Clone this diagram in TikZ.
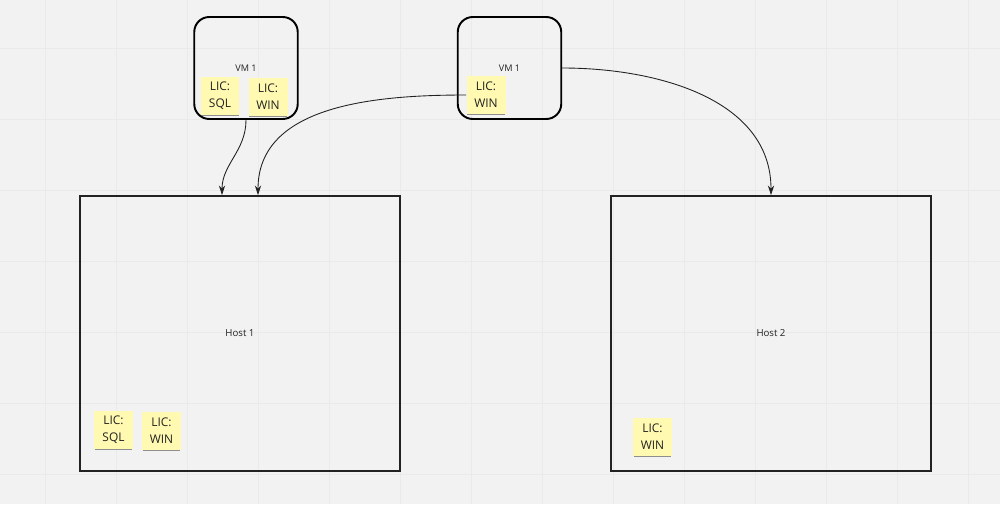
\documentclass[tikz,border=0pt]{standalone}
\usepackage{fontspec}
\setmainfont{Open Sans}
\usetikzlibrary{arrows.meta, shadows}
\definecolor{bggray}{RGB}{242,242,242}
\definecolor{gridline}{RGB}{234,234,234}
\definecolor{stickyyellow}{RGB}{255,249,177}
\definecolor{inkdark}{RGB}{34,34,34}
\tikzset{
  host/.style={draw=inkdark, line width=1.1pt, minimum width=6.4cm, minimum height=5.5cm,
    text=inkdark, font=\fontsize{5.5}{6.5}\selectfont},
  vm/.style={draw=black, line width=1.1pt, rounded corners=0.3cm, minimum width=2.07cm,
    minimum height=2.04cm, text=inkdark, font=\fontsize{5.2}{6}\selectfont},
  sticky/.style={fill=stickyyellow, minimum width=0.78cm, minimum height=0.76cm, inner sep=1pt,
    align=center, text=inkdark, font=\fontsize{6.8}{9.6}\selectfont,
    drop shadow={shadow xshift=0pt, shadow yshift=-1.3pt, shadow scale=0.95, opacity=0.6, fill=black!70}},
  link/.style={draw=inkdark, line width=0.5pt, -{Stealth[length=5.5pt, width=3.6pt]}}
}
\begin{document}
\begin{tikzpicture}[x=0.02cm, y=-0.02cm]
  \useasboundingbox (0,0) rectangle (1000,504);
  \fill[bggray] (0,0) rectangle (1000,504);
  % grille de fond
  \foreach \gx in {45,116,...,1000}
    \draw[gridline, line width=0.5pt] (\gx,0) -- (\gx,504);
  \foreach \gy in {48,119,...,504}
    \draw[gridline, line width=0.5pt] (0,\gy) -- (1000,\gy);

  % hotes
  \node[host] (hostA) at (240,333.5) {Host 1};
  \node[host] (hostB) at (771,333.5) {Host 2};
  % machines virtuelles
  \node[vm] (vmA) at (246,68) {VM 1};
  \node[vm] (vmB) at (509.5,68) {VM 1};
  % licences
  \node[sticky] (vmAsql) at (220,96) {LIC:\\SQL};
  \node[sticky] (vmAwin) at (268,97) {LIC:\\WIN};
  \node[sticky] (vmBwin) at (486,95) {LIC:\\WIN};
  \node[sticky] (hostAsql) at (113.5,430) {LIC:\\SQL};
  \node[sticky] (hostAwin) at (161.5,431) {LIC:\\WIN};
  \node[sticky] (hostBwin) at (652.5,437) {LIC:\\WIN};

  % migrations
  \draw[link] (vmA.south) to[out=-90, in=90] ([xshift=-0.36cm]hostA.north);
  \draw[link] (vmBwin.west) to[out=180, in=90] ([xshift=0.36cm]hostA.north);
  \draw[link] (vmB.east) to[out=0, in=90] (hostB.north);
\end{tikzpicture}
\end{document}
